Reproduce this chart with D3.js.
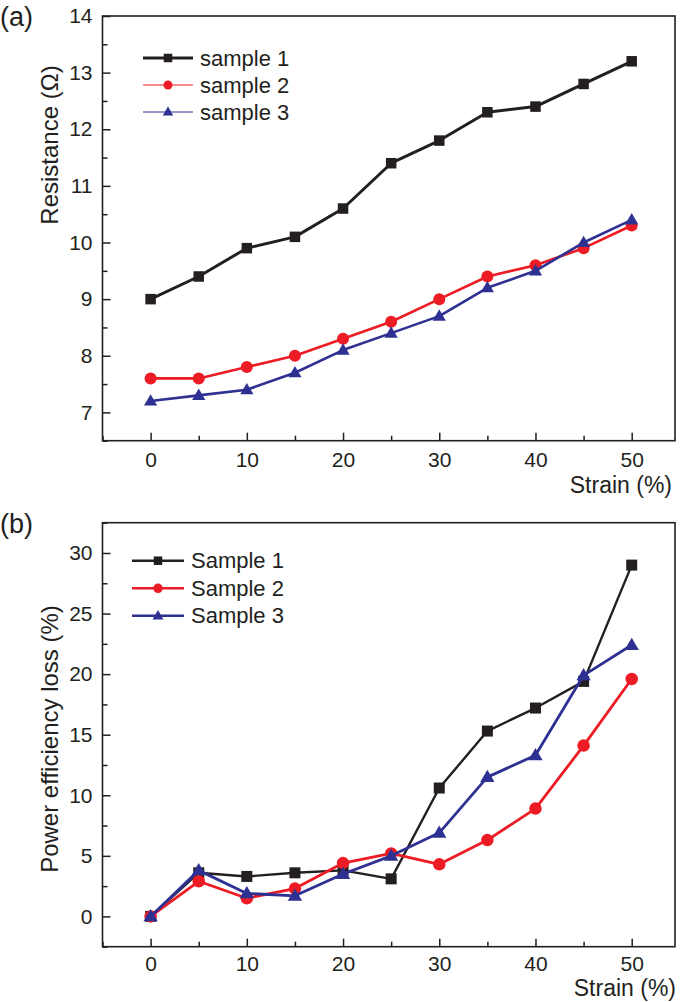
<!DOCTYPE html>
<html>
<head>
<meta charset="utf-8">
<script src="https://cdn.jsdelivr.net/npm/d3@7"></script>
<style>
  html, body { margin: 0; padding: 0; background: #fff; }
  svg { display: block; }
  text { font-family: "Liberation Sans", Arial, Helvetica, sans-serif; fill: #231f20; }
</style>
</head>
<body>
<svg id="chart" width="681" height="1002"></svg>
<script>
// ---------- data ----------
const strain = [0, 5, 10, 15, 20, 25, 30, 35, 40, 45, 50];

const resSample1 = [9.0, 9.4, 9.9, 10.1, 10.6, 11.4, 11.8, 12.3, 12.4, 12.8, 13.2];
const resSample2 = [7.6, 7.6, 7.8, 8.0, 8.3, 8.6, 9.0, 9.4, 9.6, 9.9, 10.3];
const resSample3 = [7.2, 7.3, 7.4, 7.7, 8.1, 8.4, 8.7, 9.2, 9.5, 10.0, 10.4];

const lossSample1 = [0, 3.6, 3.3, 3.6, 3.8, 3.1, 10.6, 15.3, 17.2, 19.4, 29.0];
const lossSample2 = [0, 2.9, 1.5, 2.3, 4.4, 5.2, 4.3, 6.3, 8.9, 14.1, 19.6];
const lossSample3 = [0, 3.8, 1.9, 1.7, 3.5, 5.0, 6.9, 11.5, 13.3, 19.9, 22.4];

const strainTicks = [0, 10, 20, 30, 40, 50];
const strainMinor = [-5, 5, 15, 25, 35, 45];
const resTicks = [7, 8, 9, 10, 11, 12, 13, 14];
const resMinor = [6.5, 7.5, 8.5, 9.5, 10.5, 11.5, 12.5, 13.5];
const lossTicks = [0, 5, 10, 15, 20, 25, 30];
const lossMinor = [-2.5, 2.5, 7.5, 12.5, 17.5, 22.5, 27.5, 32.5];

const legendA = ["sample 1", "sample 2", "sample 3"];
const legendB = ["Sample 1", "Sample 2", "Sample 3"];

// ---------- styling ----------
const colors = ["#231f20", "#ed1c24", "#2e3192"];
const shapes = ["square", "circle", "triangle"];
const axisColor = "#231f20";

const svg = d3.select("#chart");

function marker(g, shape, x, y, size, color) {
  if (shape === "square") {
    g.append("rect").attr("x", x - size / 2).attr("y", y - size / 2)
      .attr("width", size).attr("height", size).attr("fill", color);
  } else if (shape === "circle") {
    g.append("circle").attr("cx", x).attr("cy", y).attr("r", size / 2).attr("fill", color);
  } else {
    const h = size * 0.95, w = size * 1.1;
    g.append("path")
      .attr("d", `M${x},${y - h * 0.6}L${x + w / 2},${y + h * 0.4}L${x - w / 2},${y + h * 0.4}Z`)
      .attr("fill", color);
  }
}

function panel(opts) {
  const x = d3.scaleLinear().domain([-5, 54.5]).range([102.5, 675]);
  const y = d3.scaleLinear().domain(opts.yDomain).range([opts.bottom, opts.top]);
  const g = svg.append("g");

  // major / minor ticks, inward
  const axX = g.append("g").attr("transform", `translate(0,${opts.bottom})`)
    .call(d3.axisBottom(x).tickValues(strainTicks).tickSize(-8).tickPadding(14).tickFormat(d3.format("d")));
  const axXm = g.append("g").attr("transform", `translate(0,${opts.bottom})`)
    .call(d3.axisBottom(x).tickValues(strainMinor).tickSize(-5).tickFormat(""));
  const axY = g.append("g").attr("transform", `translate(102.5,0)`)
    .call(d3.axisLeft(y).tickValues(opts.yTicks).tickSize(-8).tickPadding(10).tickFormat(d3.format("d")));
  const axYm = g.append("g").attr("transform", `translate(102.5,0)`)
    .call(d3.axisLeft(y).tickValues(opts.yMinor).tickSize(-5).tickFormat(""));
  [axX, axXm, axY, axYm].forEach(a => {
    a.select(".domain").remove();
    a.selectAll(".tick line").attr("stroke", axisColor).attr("stroke-width", 1.5);
    a.selectAll(".tick text").attr("font-size", 21).attr("fill", axisColor)
      .style("font-family", "'Liberation Sans', Arial, sans-serif");
  });
  axX.selectAll(".tick text").attr("y", opts.tickLabY).attr("dy", 0);

  // frame
  g.append("rect").attr("x", 102.5).attr("y", opts.top)
    .attr("width", 675 - 102.5).attr("height", opts.bottom - opts.top)
    .attr("fill", "none").attr("stroke", axisColor).attr("stroke-width", 1.6);

  // series
  const line = d3.line().x(d => x(d[0])).y(d => y(d[1]));
  opts.series.forEach((vals, i) => {
    const pts = strain.map((s, j) => [s, vals[j]]);
    g.append("path").datum(pts).attr("d", line)
      .attr("fill", "none").attr("stroke", colors[i]).attr("stroke-width", opts.lw[i])
      .attr("stroke-linejoin", "round");
    const mg = g.append("g");
    pts.forEach(p => marker(mg, shapes[i], x(p[0]), y(p[1]), opts.msize[i], colors[i]));
  });

  // legend
  opts.legend.forEach((lab, i) => {
    const ly = opts.legY[i];
    g.append("line").attr("x1", opts.legX1).attr("x2", opts.legX2).attr("y1", ly).attr("y2", ly)
      .attr("stroke", colors[i]).attr("stroke-width", opts.legLw[i]);
    marker(g, shapes[i], (opts.legX1 + opts.legX2) / 2, ly, opts.legM[i], colors[i]);
    g.append("text").attr("x", opts.legX2 + 7).attr("y", ly).attr("dy", "0.35em")
      .attr("font-size", 22).text(lab);
  });

  // titles
  g.append("text").attr("x", opts.strainX).attr("y", opts.bottom + opts.strainDy).attr("text-anchor", "end")
    .attr("font-size", 23).text("Strain (%)");
  g.append("text").attr("transform", `translate(${opts.yTitleX},${opts.yTitleY}) rotate(-90)`)
    .attr("text-anchor", "middle").attr("font-size", 24).text(opts.yTitle);
  g.append("text").attr("x", 0).attr("y", opts.labelY).attr("font-size", 27).text(opts.label);
}

panel({
  top: 16, bottom: 440.7, yDomain: [6.5, 14], yTicks: resTicks, yMinor: resMinor,
  series: [resSample1, resSample2, resSample3], lw: [3, 2.6, 2.6], msize: [10.5, 12, 12],
  legend: legendA, legY: [58, 85, 112], legX1: 143, legX2: 193,
  legLw: [3, 1, 1], legM: [8.5, 9, 9.5], tickLabY: 26, strainX: 672, strainDy: 52,
  yTitle: "Resistance (\u03A9)", yTitleX: 58, yTitleY: 145, label: "(a)", labelY: 26
});

panel({
  top: 522.7, bottom: 946.7, yDomain: [-2.5, 32.5], yTicks: lossTicks, yMinor: lossMinor,
  series: [lossSample1, lossSample2, lossSample3], lw: [2.4, 2.8, 2.8], msize: [11, 12.5, 13],
  legend: legendB, legY: [560.7, 588.3, 615.7], legX1: 132, legX2: 184,
  legLw: [2.6, 2.6, 2.6], legM: [8.5, 9.5, 10], tickLabY: 24.5, strainX: 676, strainDy: 49.5,
  yTitle: "Power efficiency loss (%)", yTitleX: 58, yTitleY: 739, label: "(b)", labelY: 533
});
</script>
</body>
</html>
